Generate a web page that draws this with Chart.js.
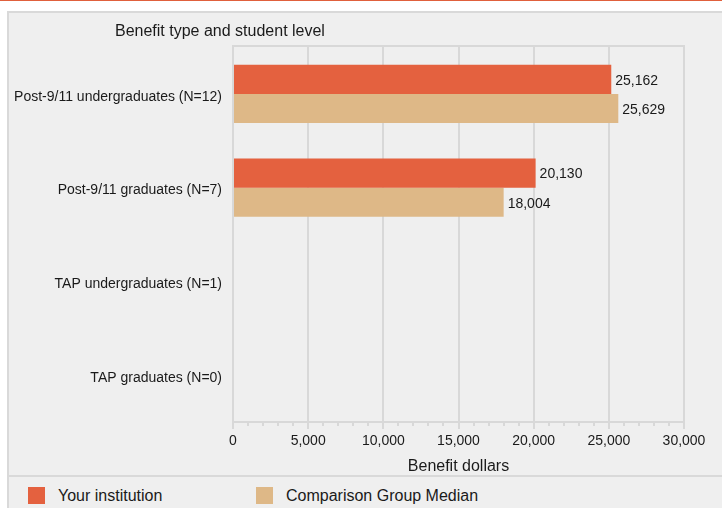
<!DOCTYPE html>
<html>
<head>
<meta charset="utf-8">
<script src="https://cdn.jsdelivr.net/npm/chart.js@4.4.1/dist/chart.umd.min.js"></script>
<style>
    body { margin: 0; background: #fff; font-family: "Liberation Sans", Arial, sans-serif; }
    .topline { position: absolute; left: 0; top: 0; width: 722px; height: 1px; background: #e0603c; }
    .panel { position: absolute; left: 7px; top: 11px; width: 715px; height: 497px; background: #efefef;
             border-top: 2px solid #d9d9d9; border-left: 2px solid #d9d9d9; box-sizing: border-box; }
    .sep { position: absolute; left: 7px; top: 475px; width: 715px; height: 2px; background: #d9d9d9; }
    #chartWrap { position: absolute; left: 0; top: 0; width: 722px; height: 476px; }
    .legend-item { position: absolute; top: 487px; height: 17px; display: flex; align-items: center; }
    .legend-box { width: 17px; height: 17px; }
    .legend-text { position: absolute; font-size: 16px; color: #1a1a1a; white-space: nowrap; }
</style>
</head>
<body>
<div class="topline"></div>
<div class="panel"></div>
<div class="sep"></div>
<div id="chartWrap"><canvas id="benefitChart" width="722" height="476"></canvas></div>
<div id="legend"></div>
<script>
    // 데이터
    const categories = ['Post-9/11 undergraduates (N=12)', 'Post-9/11 graduates (N=7)', 'TAP undergraduates (N=1)', 'TAP graduates (N=0)'];
    const seriesNames = ['Your institution', 'Comparison Group Median'];
    const yourInstitution = [25162, 20130, null, null];
    const comparisonMedian = [25629, 18004, null, null];
    const xTicks = [0, 5000, 10000, 15000, 20000, 25000, 30000];

    const colors = ['#e4613f', '#deb887'];
    const gridColor = '#d8d8d8';
    const fontFamily = '"Liberation Sans", Arial, sans-serif';

    // 제목, 위쪽 테두리, 보조 눈금, 값 라벨
    const extrasPlugin = {
        id: 'extras',
        beforeDatasetsDraw(chart) {
            const ctx = chart.ctx;
            const area = chart.chartArea;
            const x = chart.scales.x;
            ctx.save();
            ctx.strokeStyle = gridColor;
            ctx.lineWidth = 2;
            ctx.beginPath();
            ctx.moveTo(area.left - 1, area.top - 1);
            ctx.lineTo(area.right + 1, area.top - 1);
            ctx.stroke();
            ctx.lineWidth = 2;
            for (let v = 1000; v < 30000; v += 1000) {
                if (v % 5000 === 0) continue;
                const px = Math.round(x.getPixelForValue(v));
                ctx.beginPath();
                ctx.moveTo(px, area.bottom);
                ctx.lineTo(px, area.bottom + 4);
                ctx.stroke();
            }
            ctx.restore();
        },
        afterDatasetsDraw(chart) {
            const ctx = chart.ctx;
            ctx.save();
            ctx.font = '14px ' + fontFamily;
            ctx.fillStyle = '#1a1a1a';
            ctx.textAlign = 'left';
            ctx.textBaseline = 'middle';
            chart.data.datasets.forEach((ds, i) => {
                chart.getDatasetMeta(i).data.forEach((bar, j) => {
                    const v = ds.data[j];
                    if (v === null) return;
                    ctx.fillText(v.toLocaleString('en-US'), bar.x + 4, bar.y + 1.5);
                });
            });
            ctx.font = '16px ' + fontFamily;
            ctx.fillText('Benefit type and student level', 115, 32);
            ctx.restore();
        }
    };

    function renderChart() {
        new Chart(document.getElementById('benefitChart'), {
            type: 'bar',
            data: {
                labels: categories,
                datasets: [
                    { label: seriesNames[0], data: yourInstitution, backgroundColor: colors[0] },
                    { label: seriesNames[1], data: comparisonMedian, backgroundColor: colors[1] }
                ]
            },
            options: {
                indexAxis: 'y',
                responsive: false,
                animation: false,
                categoryPercentage: 0.62,
                barPercentage: 1,
                layout: { padding: { top: 47, right: 38, left: 0, bottom: 0 } },
                plugins: {
                    legend: { display: false },
                    tooltip: { enabled: false }
                },
                scales: {
                    x: {
                        min: 0,
                        max: 30000,
                        afterBuildTicks: s => { s.ticks = xTicks.map(v => ({ value: v })); },
                        afterFit: s => { s.height = 54; },
                        grid: { color: gridColor, lineWidth: 2, tickLength: 7, tickColor: gridColor },
                        border: { color: gridColor, width: 2 },
                        ticks: {
                            padding: 4,
                            color: '#1a1a1a',
                            font: { family: fontFamily, size: 14 },
                            callback: v => v.toLocaleString('en-US')
                        },
                        title: {
                            display: true,
                            text: 'Benefit dollars',
                            color: '#1a1a1a',
                            font: { family: fontFamily, size: 16 },
                            padding: { top: 0, bottom: 0 }
                        }
                    },
                    y: {
                        afterFit: s => { s.width = 233; },
                        grid: { display: false },
                        border: { display: true, color: gridColor, width: 2 },
                        ticks: {
                            padding: 3,
                            labelOffset: 3,
                            color: '#1a1a1a',
                            font: { family: fontFamily, size: 14 }
                        }
                    }
                }
            },
            plugins: [extrasPlugin]
        });
    }

    // 범례
    function renderLegend() {
        const lefts = [28, 256];
        const legend = document.getElementById('legend');
        seriesNames.forEach((name, i) => {
            const item = document.createElement('div');
            item.className = 'legend-item';
            item.style.left = lefts[i] + 'px';
            item.innerHTML = `<div class="legend-box" style="background:${colors[i]}"></div>` +
                `<span class="legend-text" style="left:30px">${name}</span>`;
            legend.appendChild(item);
        });
    }

    window.onload = function() {
        renderChart();
        renderLegend();
    };
</script>
</body>
</html>
